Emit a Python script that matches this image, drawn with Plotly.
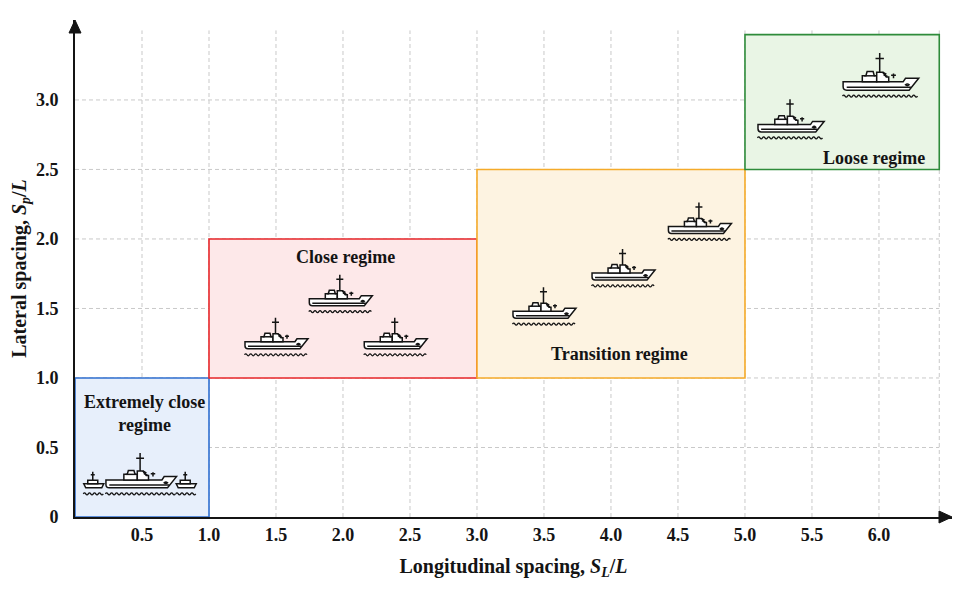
import re
import plotly.graph_objects as go

# ---------------- data ----------------
x_ticks = [0.5, 1.0, 1.5, 2.0, 2.5, 3.0, 3.5, 4.0, 4.5, 5.0, 5.5, 6.0]
x_tick_labels = ["0.5", "1.0", "1.5", "2.0", "2.5", "3.0", "3.5", "4.0", "4.5", "5.0", "5.5", "6.0"]
y_ticks = [0, 0.5, 1.0, 1.5, 2.0, 2.5, 3.0]
y_tick_labels = ["0", "0.5", "1.0", "1.5", "2.0", "2.5", "3.0"]
grid_x = [0.5, 1.0, 1.5, 2.0, 2.5, 3.0, 3.5, 4.0, 4.5, 5.0, 5.5, 6.0, 6.45]
grid_y = [0.5, 1.0, 1.5, 2.0, 2.5, 3.0]

regime_names = ["Extremely close<br>regime", "Close regime", "Transition regime", "Loose regime"]
regime_x0 = [0.0, 1.0, 3.0, 5.0]
regime_x1 = [1.0, 3.0, 5.0, 6.45]
regime_y0 = [0.0, 1.0, 1.0, 2.5]
regime_y1 = [1.0, 2.0, 2.5, 3.47]
label_x = [0.52, 2.02, 4.06, 5.96]
label_y = [0.745, 1.87, 1.17, 2.58]

# ship icon anchors (hull bottom centre)
ship_x = [0.14, 0.49, 0.83, 1.50, 1.98, 2.39, 3.50, 4.09, 4.66, 5.34, 6.01]
ship_y = [0.21, 0.21, 0.21, 1.21, 1.52, 1.21, 1.43, 1.705, 2.04, 2.77, 3.07]
ship_kind = ["small", "big", "small", "std", "std", "std", "std", "std", "std", "std", "std"]

# ---------------- styles ----------------
regime_fill = ["#e7effb", "#fde8e9", "#fdf3e1", "#e9f5e5"]
regime_line = ["#2f6fd0", "#e8262a", "#f5ab2a", "#2e8b3a"]
ship_scale = {"small": 1.0, "big": 1.12, "std": 1.0}
loose_scale = [1.0] * 9 + [1.05, 1.2]
FONT = "Liberation Serif"
INK = "#141414"

X_RANGE = [0, 6.545]
Y_RANGE = [0, 3.575]

STD_FILLED = [
    # hull
    "M -31 7 L 19 7 L 21 10 L 32 10 L 24 0 L -28 0 Q -31 0 -31 3 Z",
    # rear deckhouse
    "M -15 7 L -15 12 L -12 12 L -11 15.5 L -6 15.5 L -5 12 L -3 12 L -3 7 Z",
    # forward structure by mast
    "M -3 7 L -3 15 L 2 15 L 5 11 L 7 11 L 7 7 Z",
    # porthole
    "M 21 4.5 Q 22.5 6 24 4.5 Q 22.5 3 21 4.5 Z",
]
STD_LINES = [
    "M -0.5 15 L -0.5 31 M -4 26.5 L 3 26.5",
    "M 11 10 L 11 14 M 9 12.5 L 13 12.5",
    "M 2 15 L 4.5 13.5 L 3.5 12.5 L 6 11.5",
    "M -28 2.5 L 25.5 2.5",
    "M -13.5 12 L -4 12",
]
SMALL_FILLED = [
    "M -10 4 L 10 4 L 8 0 L -8 0 Z",
    "M -6 4 L -6 7.5 L 4 7.5 L 4 4 Z",
]
SMALL_LINES = [
    "M -1 7.5 L -1 16 M -3 13 L 1 13",
]


def scale_path(path, s):
    return re.sub(r"-?\d+(?:\.\d+)?", lambda m: f"{float(m.group()) * s:.2f}", path)


def wave_path(half_w, y=-6.0, wl=5.0, amp=2.0):
    parts = [f"M {-half_w:.2f} {y:.2f}"]
    x = -half_w
    sign = 1
    while x + wl / 2 <= half_w + 0.01:
        parts.append(f"Q {x + wl / 4:.2f} {y + sign * amp:.2f} {x + wl / 2:.2f} {y:.2f}")
        x += wl / 2
        sign *= -1
    return " ".join(parts)


fig = go.Figure()

# invisible trace to set up axes
fig.add_trace(go.Scatter(x=[X_RANGE[0], X_RANGE[1]], y=[Y_RANGE[0], Y_RANGE[1]],
                         mode="markers", marker=dict(opacity=0), hoverinfo="skip",
                         showlegend=False))

shapes = []
# grid
for gx in grid_x:
    shapes.append(dict(type="line", xref="x", yref="y", x0=gx, x1=gx, y0=0, y1=3.5,
                       line=dict(color="#c9c9c9", width=1, dash="4px,3px"), layer="below"))
for gy in grid_y:
    shapes.append(dict(type="line", xref="x", yref="y", x0=0, x1=6.45, y0=gy, y1=gy,
                       line=dict(color="#c9c9c9", width=1, dash="4px,3px"), layer="below"))
# regime boxes
for i in range(len(regime_names)):
    shapes.append(dict(type="rect", xref="x", yref="y",
                       x0=regime_x0[i], x1=regime_x1[i], y0=regime_y0[i], y1=regime_y1[i],
                       fillcolor=regime_fill[i], line=dict(color=regime_line[i], width=1.6),
                       layer="below"))

# ship icons
for i in range(len(ship_x)):
    kind = ship_kind[i]
    s = ship_scale[kind] * loose_scale[i]
    if kind == "small":
        filled, lines, half = SMALL_FILLED, SMALL_LINES, 10.5
    else:
        filled, lines, half = STD_FILLED, STD_LINES, 31.5
    base = dict(type="path", xref="x", yref="y", xsizemode="pixel", ysizemode="pixel",
                xanchor=ship_x[i], yanchor=ship_y[i], layer="above")
    for p in filled:
        shapes.append(dict(base, path=scale_path(p, s), fillcolor="white",
                           line=dict(color=INK, width=1.5)))
    for p in lines:
        shapes.append(dict(base, path=scale_path(p, s), fillcolor="rgba(0,0,0,0)",
                           line=dict(color=INK, width=1.5)))
    shapes.append(dict(base, path=wave_path(half * s, y=-6.0), fillcolor="rgba(0,0,0,0)",
                       line=dict(color=INK, width=1.3)))

# axis arrowheads (paper anchored, pixel sized)
shapes.append(dict(type="path", xref="paper", yref="paper", xsizemode="pixel", ysizemode="pixel",
                   xanchor=1, yanchor=0, path="M 0 0 L -13 6 L -13 -6 Z",
                   fillcolor=INK, line=dict(color=INK, width=1)))
shapes.append(dict(type="path", xref="paper", yref="paper", xsizemode="pixel", ysizemode="pixel",
                   xanchor=0, yanchor=1, path="M 0 0 L -6 -13 L 6 -13 Z",
                   fillcolor=INK, line=dict(color=INK, width=1)))

annotations = []
for i in range(len(regime_names)):
    annotations.append(dict(x=label_x[i], y=label_y[i], xref="x", yref="y",
                            text=f"<b>{regime_names[i]}</b>", showarrow=False,
                            font=dict(family=FONT, size=18, color=INK)))

# The page body adds an 8px offset, so margins are compensated here.
fig.update_layout(
    width=969, height=590,
    margin=dict(l=67, r=25, t=12, b=81, autoexpand=False),
    paper_bgcolor="white", plot_bgcolor="white",
    shapes=shapes, annotations=annotations,
    showlegend=False,
    font=dict(family=FONT, color=INK),
    xaxis=dict(range=X_RANGE, showgrid=False, zeroline=False, automargin=False,
               showline=True, linecolor=INK, linewidth=2,
               tickmode="array", tickvals=x_ticks, ticktext=[f"<b>{t}</b>" for t in x_tick_labels],
               ticks="", tickfont=dict(family=FONT, size=18, color=INK), ticklabelstandoff=0,
               title=dict(text="<b>Longitudinal spacing, <i>S<sub>L</sub></i>/<i>L</i></b>",
                          font=dict(family=FONT, size=20, color=INK), standoff=15),
               fixedrange=True),
    yaxis=dict(range=Y_RANGE, showgrid=False, zeroline=False, automargin=False,
               showline=True, linecolor=INK, linewidth=2,
               tickmode="array", tickvals=y_ticks, ticktext=[f"<b>{t}</b>" for t in y_tick_labels],
               ticks="", tickfont=dict(family=FONT, size=18, color=INK), ticklabelstandoff=11,
               title=dict(text="<b>Lateral spacing, <i>S<sub>p</sub></i>/<i>L</i></b>",
                          font=dict(family=FONT, size=20, color=INK), standoff=8),
               fixedrange=True),
)

fig.write_html("out.html")
